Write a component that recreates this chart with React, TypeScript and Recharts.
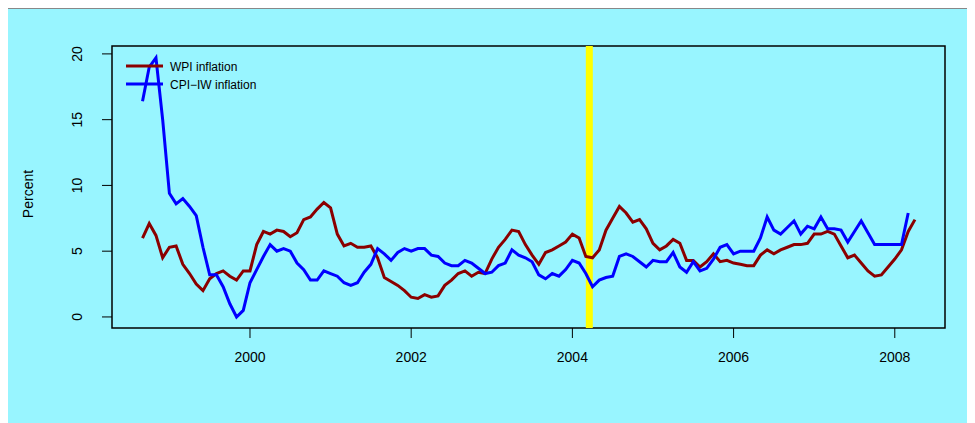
import { LineChart, Line, XAxis, YAxis, ReferenceLine, ReferenceArea } from 'recharts'

// monthly series starting Sep 1998
const START = 1998 + 8 / 12
const WPI = [
  6.0, 7.1, 6.2, 4.5, 5.3, 5.4, 4.0, 3.3, 2.5, 2.0,
  2.9, 3.3, 3.5, 3.1, 2.8, 3.5, 3.5, 5.5, 6.5, 6.3,
  6.6, 6.5, 6.1, 6.4, 7.4, 7.6, 8.2, 8.7, 8.3, 6.3,
  5.4, 5.6, 5.3, 5.3, 5.4, 4.5, 3.0, 2.7, 2.4, 2.0,
  1.5, 1.4, 1.7, 1.5, 1.6, 2.4, 2.8, 3.3, 3.5, 3.1,
  3.4, 3.3, 4.4, 5.3, 5.9, 6.6, 6.5, 5.5, 4.7, 4.0,
  4.9, 5.1, 5.4, 5.7, 6.3, 6.0, 4.6, 4.5, 5.1, 6.6,
  7.5, 8.4, 7.9, 7.2, 7.4, 6.7, 5.6, 5.1, 5.4, 5.9,
  5.6, 4.3, 4.3, 3.8, 4.2, 4.8, 4.2, 4.3, 4.1, 4.0,
  3.9, 3.9, 4.7, 5.1, 4.8, 5.1, 5.3, 5.5, 5.5, 5.6,
  6.3, 6.3, 6.5, 6.3, 5.4, 4.5, 4.7, 4.1, 3.5, 3.1,
  3.2, 3.8, 4.4, 5.1, 6.5, 7.4,
]
const CPI = [
  16.4, 19.0, 19.7, 15.0, 9.4, 8.6, 9.0, 8.4, 7.7, 5.3,
  3.2, 3.2, 2.3, 1.0, 0.0, 0.5, 2.6, 3.6, 4.6, 5.5,
  5.0, 5.2, 5.0, 4.1, 3.6, 2.8, 2.8, 3.5, 3.3, 3.1,
  2.6, 2.4, 2.6, 3.4, 4.0, 5.2, 4.8, 4.3, 4.9, 5.2,
  5.0, 5.2, 5.2, 4.7, 4.6, 4.1, 3.9, 3.9, 4.3, 4.1,
  3.7, 3.3, 3.4, 3.9, 4.1, 5.1, 4.7, 4.5, 4.2, 3.2,
  2.9, 3.3, 3.1, 3.6, 4.3, 4.1, 3.3, 2.3, 2.8, 3.0,
  3.1, 4.6, 4.8, 4.6, 4.2, 3.8, 4.3, 4.2, 4.2, 4.9,
  3.8, 3.4, 4.2, 3.5, 3.7, 4.4, 5.3, 5.5, 4.8, 5.0,
  5.0, 5.0, 6.0, 7.6, 6.6, 6.3, 6.8, 7.3, 6.3, 6.9,
  6.7, 7.6, 6.7, 6.7, 6.6, 5.7, 6.5, 7.3, 6.4, 5.5,
  5.5, 5.5, 5.5, 5.5, 7.9,
]
const X_TICKS = [2000, 2002, 2004, 2006, 2008]
const Y_TICKS = [0, 5, 10, 15, 20]
const BREAK = 2004.21

const X_DOMAIN: [number, number] = [1998.288, 2008.623]
const Y_DOMAIN: [number, number] = [-0.84, 20.6]

const data = WPI.map((w, i) => ({ t: START + i / 12, wpi: w, cpi: CPI[i] }))

const FONT = '"Liberation Sans", Arial, sans-serif'

function YTick({ x, y, payload }: any) {
  return (
    <text x={x - 18} y={y} transform={`rotate(-90 ${x - 18} ${y})`} textAnchor="middle"
      fontSize={14} fontFamily={FONT} fill="#000">
      {payload.value}
    </text>
  )
}

export default function App() {
  return (
    <div style={{ position: 'relative', width: 967, height: 415, background: '#98f5ff', borderTop: '1px solid #888' }}>
      <LineChart width={967} height={414} data={data} margin={{ top: 37, right: 30, left: 0, bottom: 0 }}>
        <XAxis dataKey="t" type="number" domain={X_DOMAIN} ticks={X_TICKS} allowDataOverflow
          height={95} axisLine={false} tickLine={{ stroke: '#000' }} tickSize={10}
          tick={{ fontSize: 14, fill: '#000', fontFamily: FONT, dy: 12 }} />
        <YAxis type="number" domain={Y_DOMAIN} ticks={Y_TICKS} allowDataOverflow width={104}
          axisLine={false} tickLine={{ stroke: '#000' }} tickSize={10} tick={<YTick />} />
        <ReferenceLine x={BREAK} stroke="#ffff00" strokeWidth={7} />
        <Line dataKey="wpi" stroke="#8b0000" strokeWidth={3} dot={false} isAnimationActive={false} />
        <Line dataKey="cpi" stroke="#0000ff" strokeWidth={3} dot={false} isAnimationActive={false} />
        <ReferenceArea x1={X_DOMAIN[0]} x2={X_DOMAIN[1]} y1={Y_DOMAIN[0]} y2={Y_DOMAIN[1]}
          fill="none" stroke="#000" strokeWidth={1.5} fillOpacity={0} />
      </LineChart>
      <svg width={967} height={414} style={{ position: 'absolute', left: 0, top: 0, pointerEvents: 'none' }}>
        <text x={25} y={185} transform="rotate(-90 25 185)" textAnchor="middle" fontSize={14} fontFamily={FONT}>Percent</text>
        <line x1={118} x2={155} y1={57} y2={57} stroke="#8b0000" strokeWidth={3} />
        <line x1={118} x2={155} y1={75} y2={75} stroke="#0000ff" strokeWidth={3} />
        <text x={162} y={62} fontSize={12} fontFamily={FONT}>WPI inflation</text>
        <text x={162} y={80} fontSize={12} fontFamily={FONT}>CPI−IW inflation</text>
      </svg>
    </div>
  )
}
